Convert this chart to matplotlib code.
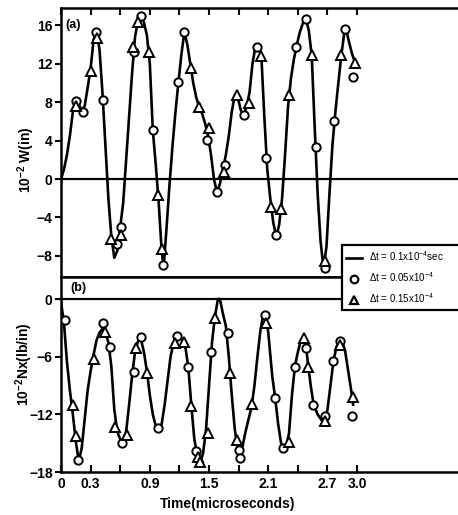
"""Two-panel time history: deflection W and stress resultant Nx for three time steps."""

import matplotlib

matplotlib.use("Agg")
import matplotlib.pyplot as plt
from matplotlib.lines import Line2D

# ---- panel (a): W, solid line is dt = 0.1e-4 sec
w_line_t = [0.0, 0.03, 0.06, 0.09, 0.12, 0.15, 0.18, 0.21, 0.24, 0.27, 0.30, 0.33,
            0.36, 0.39, 0.42, 0.45, 0.48, 0.51, 0.54, 0.57, 0.60, 0.63, 0.66, 0.69,
            0.72, 0.75, 0.78, 0.81, 0.84, 0.87, 0.90, 0.93, 0.96, 0.99, 1.02, 1.04,
            1.07, 1.10, 1.13, 1.16, 1.19, 1.22, 1.25, 1.28, 1.31, 1.34, 1.37, 1.40,
            1.43, 1.46, 1.49, 1.52, 1.55, 1.58, 1.61, 1.64, 1.67, 1.70, 1.73, 1.76,
            1.79, 1.82, 1.85, 1.88, 1.91, 1.94, 1.97, 2.00, 2.03, 2.06, 2.09, 2.12,
            2.15, 2.18, 2.21, 2.24, 2.27, 2.30, 2.33, 2.36, 2.39, 2.42, 2.45, 2.48,
            2.51, 2.54, 2.57, 2.60, 2.63, 2.66, 2.69, 2.72, 2.75, 2.78, 2.81, 2.84,
            2.87, 2.89, 2.92, 2.95, 2.98]
w_line = [0.0, 1.0, 2.5, 4.5, 7.0, 8.1, 7.8, 7.1, 7.6, 9.5, 11.5, 14.5,
          15.4, 13.5, 9.0, 3.5, -2.0, -6.0, -8.2, -7.5, -5.0, -2.5, 2.0, 6.5,
          11.0, 14.8, 16.5, 17.1, 16.3, 15.0, 12.0, 5.1, 1.5, -2.5, -7.5, -9.2,
          -5.0, -0.5, 3.5, 7.0, 10.1, 13.0, 15.3, 14.0, 12.0, 10.0, 8.5, 7.5,
          6.8, 5.8, 4.5, 2.5, 0.0, -1.4, -0.5, 1.0, 2.5, 4.5, 7.0, 8.7,
          8.6, 7.2, 6.7, 7.5, 9.0, 12.0, 13.8, 13.9, 12.8, 6.5, 1.0, -2.0,
          -4.5, -6.0, -4.8, -2.0, 2.5, 7.5, 10.5, 12.5, 14.0, 15.3, 16.2, 16.7,
          15.5, 12.9, 5.5, -1.5, -6.5, -9.3, -7.0, -1.5, 3.5, 7.0, 10.0, 12.9,
          15.2, 15.5, 14.2, 13.0, 12.1]

# dt = 0.05e-4 (circles)
w_circ_t = [0.149, 0.226, 0.35, 0.43, 0.57, 0.605, 0.737, 0.814, 0.93, 1.03,
            1.19, 1.25, 1.48, 1.58, 1.66, 1.85, 1.99, 2.08, 2.175, 2.38, 2.48,
            2.58, 2.67, 2.77, 2.88, 2.96]
w_circ = [8.15, 6.95, 15.3, 8.2, -6.8, -5.0, 13.2, 17.0, 5.1, -9.0,
          10.1, 15.3, 4.1, -1.4, 1.5, 6.7, 13.7, 2.2, -5.8, 13.8, 16.7,
          3.3, -9.3, 6.0, 15.6, 10.65]

# dt = 0.15e-4 (triangles)
w_tri_t = [0.149, 0.30, 0.36, 0.507, 0.608, 0.73, 0.777, 0.895, 0.986, 1.02,
           1.32, 1.40, 1.50, 1.655, 1.78, 1.90, 2.03, 2.13, 2.23, 2.31, 2.54,
           2.67, 2.84, 2.98]
w_tri = [7.6, 11.2, 14.7, -6.3, -5.8, 13.7, 16.4, 13.2, -1.7, -7.3,
         11.6, 7.5, 5.3, 0.7, 8.8, 7.9, 12.8, -2.9, -3.1, 8.75, 12.9,
         -8.5, 12.9, 12.05]

# ---- panel (b): Nx
nx_line_t = [0.0, 0.03, 0.06, 0.09, 0.12, 0.15, 0.18, 0.21, 0.24, 0.27, 0.30, 0.33,
             0.36, 0.39, 0.42, 0.45, 0.48, 0.51, 0.54, 0.57, 0.60, 0.63, 0.66, 0.69,
             0.72, 0.75, 0.78, 0.81, 0.84, 0.87, 0.90, 0.93, 0.96, 0.99, 1.02, 1.05,
             1.08, 1.11, 1.14, 1.17, 1.20, 1.23, 1.26, 1.29, 1.32, 1.35, 1.38, 1.41,
             1.44, 1.47, 1.50, 1.53, 1.56, 1.59, 1.61, 1.64, 1.67, 1.70, 1.73, 1.76,
             1.79, 1.81, 1.84, 1.87, 1.90, 1.93, 1.96, 1.99, 2.02, 2.05, 2.07, 2.10,
             2.14, 2.17, 2.20, 2.23, 2.25, 2.28, 2.31, 2.34, 2.37, 2.40, 2.43, 2.46,
             2.48, 2.50, 2.53, 2.56, 2.60, 2.64, 2.67, 2.70, 2.73, 2.76, 2.79, 2.82,
             2.85, 2.88, 2.91, 2.94, 2.96]
nx_line = [-0.3, -2.5, -6.5, -9.5, -12.0, -14.8, -16.9, -15.5, -12.5, -9.5, -7.5, -5.8,
           -4.3, -3.5, -3.1, -3.5, -4.5, -7.0, -11.5, -13.8, -14.6, -14.7, -13.8, -11.0,
           -8.0, -5.5, -4.4, -4.2, -5.5, -7.5, -10.0, -12.0, -13.2, -13.6, -13.0, -11.0,
           -8.5, -6.0, -4.6, -3.9, -3.9, -4.2, -5.0, -7.1, -11.0, -14.5, -16.3, -17.1,
           -16.0, -13.5, -9.0, -4.5, -1.8, 0.0, 0.0, -1.5, -2.8, -6.0, -10.0, -13.5,
           -15.6, -16.5, -15.3, -13.8, -12.5, -11.3, -9.0, -6.0, -3.3, -1.6, -1.4, -3.5,
           -8.0, -10.3, -13.0, -15.0, -15.6, -15.3, -14.0, -10.0, -7.0, -5.5, -4.3, -3.9,
           -4.8, -6.5, -9.0, -11.0, -12.0, -12.6, -13.0, -11.5, -9.0, -6.5, -5.0, -4.3,
           -4.4, -5.5, -7.5, -9.5, -11.0]

nx_circ_t = [0.04, 0.176, 0.43, 0.50, 0.615, 0.743, 0.81, 0.986, 1.18, 1.29, 1.37,
             1.52, 1.695, 1.80, 1.81, 2.067, 2.17, 2.25, 2.37, 2.48, 2.556, 2.67,
             2.76, 2.83, 2.95]
nx_circ = [-2.2, -16.8, -2.5, -5.0, -15.0, -7.6, -4.0, -13.4, -3.85, -7.1, -15.8,
           -5.5, -3.5, -15.7, -16.5, -1.7, -10.3, -15.5, -7.05, -5.1, -11.0, -12.2,
           -6.5, -4.4, -12.2]

nx_tri_t = [0.125, 0.149, 0.337, 0.446, 0.547, 0.665, 0.76, 0.875, 1.155, 1.246,
            1.32, 1.385, 1.41, 1.49, 1.56, 1.71, 1.78, 1.94, 2.077, 2.31, 2.465,
            2.505, 2.67, 2.83, 2.96]
nx_tri = [-11.0, -14.3, -6.2, -3.4, -13.3, -14.1, -5.1, -7.7, -4.55, -4.45,
          -11.15, -16.4, -17.0, -13.9, -2.0, -7.7, -14.7, -10.9, -2.5, -14.9, -4.1,
          -7.05, -12.7, -4.8, -10.2]

x_ticks = [0.0, 0.3, 0.6, 0.9, 1.2, 1.5, 1.8, 2.1, 2.4, 2.7, 3.0]
x_tick_labels = ["0", "0.3", "", "0.9", "", "1.5", "", "2.1", "", "2.7", "3.0"]
w_ticks = [-8, -4, 0, 4, 8, 12, 16]
nx_ticks = [-18, -12, -6, 0]

legend_labels = [r"$\Delta$t = 0.1x10$^{-4}$sec",
                 r"$\Delta$t = 0.05x10$^{-4}$",
                 r"$\Delta$t = 0.15x10$^{-4}$"]

plt.rcParams["font.family"] = ["Liberation Sans", "DejaVu Sans"]
plt.rcParams["font.weight"] = "bold"
plt.rcParams["mathtext.default"] = "regular"

W, H = 458, 515
X0, X1 = 61, 470          # axes pixel extent (right edge runs off the page)
PX_PER_US = 98.7


def _fig_box(top_px, bottom_px):
    return [X0 / W, 1 - bottom_px / H, (X1 - X0) / W, (bottom_px - top_px) / H]


def _draw_series(ax, lt, ly, ct, cy, tt, ty):
    ax.plot(lt, ly, color="black", lw=1.9, zorder=3)
    ax.plot(ct, cy, ls="none", marker="o", ms=6, mfc="white", mec="black",
            mew=1.4, zorder=4)
    ax.plot(tt, ty, ls="none", marker="^", ms=6.5, mfc="white", mec="black",
            mew=1.4, zorder=4)
    ax.axhline(0, color="black", lw=1.6, zorder=2)


def _style(ax):
    for spine in ax.spines.values():
        spine.set_linewidth(1.8)
    ax.set_xlim(0, (X1 - X0) / PX_PER_US)
    ax.tick_params(axis="y", direction="out", length=4, width=1.5,
                   labelsize=10, pad=2)
    ax.tick_params(axis="x", direction="in", length=5, width=1.5,
                   labelsize=10)
    ax.set_xticks(x_ticks)


fig = plt.figure(figsize=(W / 100, H / 100), dpi=100)
ax_w = fig.add_axes(_fig_box(8, 277))
ax_n = fig.add_axes(_fig_box(277, 472))

_draw_series(ax_w, w_line_t, w_line, w_circ_t, w_circ, w_tri_t, w_tri)
_draw_series(ax_n, nx_line_t, nx_line, nx_circ_t, nx_circ, nx_tri_t, nx_tri)

_style(ax_w)
ax_w.set_ylim((179 - 277) / 9.6, (179 - 8) / 9.6)
ax_w.set_yticks(w_ticks)
ax_w.xaxis.set_ticks_position("top")
ax_w.tick_params(axis="x", labeltop=False, labelbottom=False)
ax_w.text(0.04, 16.0, "(a)", fontsize=9, fontweight="bold", va="center")

_style(ax_n)
ax_n.set_ylim(-18, (299 - 277) / 9.6)
ax_n.set_yticks(nx_ticks)
ax_n.xaxis.set_ticks_position("bottom")
ax_n.set_xticklabels(x_tick_labels)
ax_n.text(0.09, 1.1, "(b)", fontsize=9, fontweight="bold", va="center")

fig.text(26 / W, 1 - 160 / H, r"10$^{-2}$ W(in)", rotation=90, fontsize=10,
         fontweight="bold", ha="center", va="center")
fig.text(24 / W, 1 - 364 / H, r"10$^{-2}$Nx(lb/in)", rotation=90, fontsize=10,
         fontweight="bold", ha="center", va="center")
fig.text(228 / W, 1 - 504 / H, "Time(microseconds)", fontsize=10,
         fontweight="bold", ha="center", va="center")

handles = [
    Line2D([], [], color="black", lw=1.9),
    Line2D([], [], ls="none", marker="o", ms=5.5, mfc="white", mec="black", mew=1.6),
    Line2D([], [], ls="none", marker="^", ms=6, mfc="white", mec="black", mew=1.6),
]
# legend box runs off the right edge like the original scan
leg = fig.legend(handles, legend_labels, loc="upper left", mode="expand",
                 bbox_to_anchor=(342 / W, 1 - 310 / H, (478 - 342) / W, 65 / H),
                 frameon=True, fancybox=False, framealpha=1, edgecolor="black",
                 prop={"size": 7, "weight": "normal"}, handlelength=1.6,
                 handletextpad=0.7, borderpad=0.45, labelspacing=0.75,
                 borderaxespad=0)
leg.get_frame().set_linewidth(1.6)

fig.savefig("out.png", dpi=100)
